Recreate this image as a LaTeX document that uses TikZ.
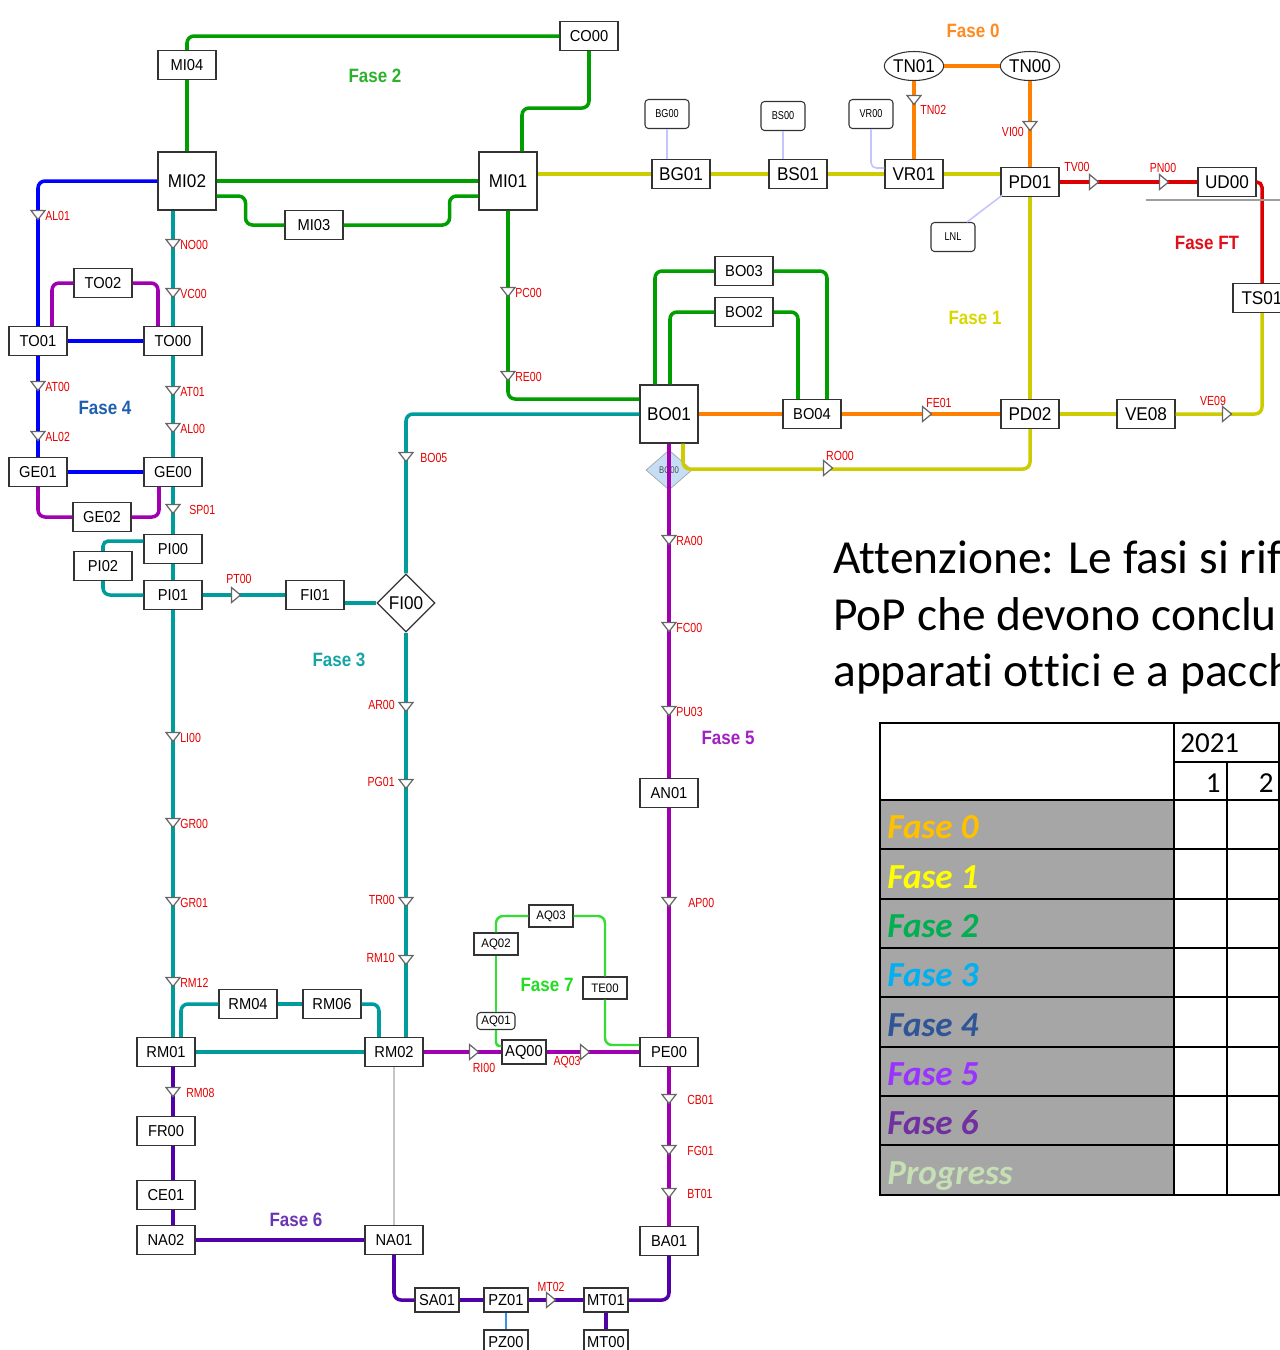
\documentclass[tikz,border=0pt]{standalone}
\usepackage{fontspec}
\setmainfont[Ligatures=NoCommon]{Carlito}
\newfontfamily\arialn[FakeStretch=0.93]{Liberation Sans}
\newfontfamily\arialf[FakeStretch=0.88]{Liberation Sans}
\newfontfamily\arialc[FakeStretch=0.80]{Liberation Sans}
\usetikzlibrary{shapes.geometric,calc}

% line colours
\definecolor{fzero}{HTML}{FF8000}
\definecolor{fone}{HTML}{CCCC00}
\definecolor{ftwo}{HTML}{009E00}
\definecolor{fthree}{HTML}{009C9C}
\definecolor{ffour}{HTML}{0000FF}
\definecolor{ffive}{HTML}{A000B0}
\definecolor{fsix}{HTML}{5200A8}
\definecolor{fseven}{HTML}{33DD33}
\definecolor{fft}{HTML}{DD0000}
\definecolor{lav}{HTML}{C4C4FF}
\definecolor{bolight}{HTML}{C6DDF6}
\definecolor{pzblue}{HTML}{3A8EE6}
\definecolor{tabgray}{HTML}{A6A6A6}
% label colours
\definecolor{lzero}{HTML}{FF8A1F}
\definecolor{lone}{HTML}{D8D800}
\definecolor{ltwo}{HTML}{2DB02D}
\definecolor{lthree}{HTML}{15A5A5}
\definecolor{lfour}{HTML}{1F5FAF}
\definecolor{lfive}{HTML}{A020C0}
\definecolor{lsix}{HTML}{6A35B5}
\definecolor{lseven}{HTML}{22DD22}
\definecolor{lft}{HTML}{E0101A}
% table colours
\definecolor{tzero}{HTML}{FFC000}
\definecolor{tone}{HTML}{FFFF00}
\definecolor{ttwo}{HTML}{00B050}
\definecolor{tthree}{HTML}{00B0F0}
\definecolor{tfour}{HTML}{2F5597}
\definecolor{tfive}{HTML}{9933FF}
\definecolor{tsix}{HTML}{7030A0}
\definecolor{tprog}{HTML}{C5E0B4}

\tikzset{
  box/.style={draw=black!80, fill=white, line width=0.6pt, inner sep=0pt,
    minimum width=1.16cm, minimum height=0.58cm, font=\arialn\fontsize{9}{9}\selectfont},
  wbox/.style={box, font=\arialn\fontsize{10.5}{10.5}\selectfont},
  bigbox/.style={wbox, minimum height=1.16cm},
  oval/.style={wbox, ellipse},
  sbox/.style={box, minimum width=0.88cm, minimum height=0.44cm, font=\arialn\fontsize{7}{7}\selectfont},
  tbox/.style={box, minimum width=0.88cm, minimum height=0.48cm},
  rbox/.style={box, rounded corners=2pt, minimum width=0.88cm, font=\arialc\fontsize{6.5}{6.5}\selectfont},
  ln/.style={line width=2pt, rounded corners=4pt},
  ln7/.style={line width=1.4pt, rounded corners=4pt},
  lnthin/.style={line width=0.9pt, rounded corners=3pt},
  mk/.style={draw=black!60, fill=white, line width=0.7pt, sharp corners},
  dn/.pic={\path[mk] (-7,-4.5) -- (7,-4.5) -- (0,4.5) -- cycle;},
  rt/.pic={\path[mk] (-4.5,-7.5) -- (4.5,0) -- (-4.5,7.5) -- cycle;},
  lbl/.style={text=red!90!black, inner sep=0pt, font=\arialc\fontsize{7.5}{7.5}\selectfont},
  fase/.style={inner sep=0pt, font=\arialf\bfseries\fontsize{11}{11}\selectfont},
  tab/.style={line width=1.5pt},
}

\begin{document}
\begin{tikzpicture}[x=0.02cm,y=-0.02cm]
  \useasboundingbox (0,0) rectangle (1280,1350);
  \clip (0,0) rectangle (1280,1350);

  % nodes, top
  \node[box] (CO00) at (589,36) {CO00};
  \node[box] (MI04) at (187,65) {MI04};
  \node[bigbox] (MI02) at (187,181) {MI02};
  \node[bigbox] (MI01) at (508,181) {MI01};
  \node[box] (MI03) at (314,225) {MI03};
  \node[rbox] (BG00) at (667,114) {BG00};
  \node[rbox] (BS00) at (783,116) {BS00};
  \node[rbox] (VR00) at (871,114) {VR00};
  \node[rbox] (LNL) at (953,237) {LNL};
  \node[wbox] (BG01) at (681,174) {BG01};
  \node[wbox] (BS01) at (798,174) {BS01};
  \node[wbox] (VR01) at (914,174) {VR01};
  \node[wbox] (PD01) at (1030,182) {PD01};
  \node[wbox] (UD00) at (1227,182) {UD00};
  \node[wbox] (TS01) at (1262,298) {TS01};
  \node[oval] (TN01) at (914,66) {TN01};
  \node[oval] (TN00) at (1030,66) {TN00};
  % nodes, BO
  \node[box] (BO03) at (744,271) {BO03};
  \node[box] (BO02) at (744,312) {BO02};
  \node[bigbox] (BO01) at (669,414) {BO01};
  \node[box] (BO04) at (812,414) {BO04};
  \node[wbox] (PD02) at (1030,414) {PD02};
  \node[wbox] (VE08) at (1146,414) {VE08};
  \node[diamond, draw=gray!70, fill=bolight, inner sep=0pt, minimum width=0.92cm, minimum height=0.8cm,
    font=\arialc\fontsize{5.5}{5.5}\selectfont, text=black!70] (BO00) at (669,470) {BO00};
  \node[box] (AN01) at (669,793) {AN01};
  % nodes, left
  \node[box] (TO02) at (103,283) {TO02};
  \node[box] (TO01) at (38,341) {TO01};
  \node[box] (TO00) at (173,341) {TO00};
  \node[box] (GE01) at (38,472) {GE01};
  \node[box] (GE00) at (173,472) {GE00};
  \node[box] (GE02) at (102,517) {GE02};
  \node[box] (PI00) at (173,549) {PI00};
  \node[box] (PI02) at (103,566) {PI02};
  \node[box] (PI01) at (173,595) {PI01};
  \node[box] (FI01) at (315,595) {FI01};
  \node[diamond, draw=black!80, fill=white, line width=0.7pt, inner sep=0pt, minimum width=1.16cm,
    minimum height=1.16cm, font=\arialn\fontsize{10.5}{10.5}\selectfont] (FI00) at (406,603) {FI00};
  % nodes, bottom
  \node[box] (RM04) at (248,1004) {RM04};
  \node[box] (RM06) at (332,1004) {RM06};
  \node[box] (RM01) at (166,1052) {RM01};
  \node[box] (RM02) at (394,1052) {RM02};
  \node[sbox] (AQ03) at (551,916) {AQ03};
  \node[sbox] (AQ02) at (496,944) {AQ02};
  \node[sbox] (TE00) at (605,988) {TE00};
  \node[sbox, rounded corners=2pt, minimum width=0.76cm, minimum height=0.34cm] (AQ01) at (496,1021) {AQ01};
  \node[tbox] (AQ00) at (524,1052) {AQ00};
  \node[box] (PE00) at (669,1052) {PE00};
  \node[box] (FR00) at (166,1131) {FR00};
  \node[box] (CE01) at (166,1195) {CE01};
  \node[box] (NA02) at (166,1240) {NA02};
  \node[box] (NA01) at (394,1240) {NA01};
  \node[box] (BA01) at (669,1241) {BA01};
  \node[tbox] (SA01) at (437,1300) {SA01};
  \node[tbox] (PZ01) at (506,1300) {PZ01};
  \node[tbox] (MT01) at (606,1300) {MT01};
  \node[tbox] (PZ00) at (506,1342) {PZ00};
  \node[tbox] (MT00) at (606,1342) {MT00};

  % Fase 2
  \draw[ln,ftwo] (MI04.north) |- (CO00.west);
  \draw[ln,ftwo] (CO00.south) -- ++(0,57) -| ($(MI01.north)+(14,0)$);
  \draw[ln,ftwo] (MI04) -- (MI02);
  \draw[ln,ftwo] (MI02) -- (MI01);
  \draw[ln,ftwo] ($(MI02.east)+(0,15)$) -- ++(29,0) |- (MI03.west);
  \draw[ln,ftwo] (MI03.east) -- ++(106,0) |- ($(MI01.west)+(0,15)$);
  \draw[ln,ftwo] (MI01.south) |- ($(BO01.west)+(0,-15)$);
  \draw[ln,ftwo] (BO03.west) -| ($(BO01.north)+(-14,0)$);
  \draw[ln,ftwo] (BO02.west) -| ($(BO01.north)+(1,0)$);
  \draw[ln,ftwo] (BO03.east) -| ($(BO04.north)+(15,0)$);
  \draw[ln,ftwo] (BO02.east) -| ($(BO04.north)+(-14,0)$);

  % Fase 1
  \draw[ln,fone] ($(MI01.east)+(0,-7)$) -- (BG01.west);
  \draw[ln,fone] (BG01) -- (BS01);
  \draw[ln,fone] (BS01) -- (VR01);
  \draw[ln,fone] (VR01.east) -- (VR01.east -| PD01.west);
  \draw[ln,fone] (PD01) -- (PD02);
  \draw[ln,fone] (PD02) -- (VE08);
  \draw[ln,fone] (VE08.east) -| (TS01.south);
  \draw[ln,fone] ($(BO01.south)+(14,0)$) |- ($(PD02.south)+(0,40)$) -- (PD02.south);

  % Fase 0
  \draw[ln,fzero] (TN01) -- (TN00);
  \draw[ln,fzero] (TN01) -- (VR01);
  \draw[ln,fzero] (TN00) -- (PD01);
  \draw[ln,fzero] (BO01) -- (BO04);
  \draw[ln,fzero] (BO04) -- (PD02);

  % Fase FT
  \draw[ln,fft] (PD01) -- (UD00);
  \draw[ln,fft,rounded corners=3pt] (UD00.east) -| (TS01.north);
  \coordinate (ftA) at (1146,200);
  \coordinate (ftB) at (1280,200);
  \draw[gray!75, line width=0.7pt] (ftA) -- (ftB);

  % thin links
  \draw[lnthin,lav] (BG00) -- (BG00 |- BG01.north);
  \draw[lnthin,lav] (BS00) -- (BS00 |- BS01.north);
  \draw[lnthin,lav] (VR00.south) |- ($(VR01.west)+(0,-6)$);
  \draw[lnthin,lav] ($(LNL.north)+(14,0)$) -- ($(PD01.south west)+(2,-2)$);

  % Fase 3
  \draw[ln,fthree] ($(MI02.south)+(-14,0)$) -- (TO00.north);
  \draw[ln,fthree] (TO00) -- (GE00);
  \draw[ln,fthree] (GE00) -- (PI00);
  \draw[ln,fthree] (PI00) -- (PI01);
  \draw[ln,fthree,rounded corners=3pt] ($(PI00.west)+(0,-8)$) -| (PI02.north);
  \draw[ln,fthree] (PI02.south) |- (PI01.west);
  \draw[ln,fthree] (PI01) -- (FI01);
  \draw[ln,fthree,line width=2.6pt] (FI01.east |- FI00.west) -- (FI00.west);
  \draw[ln,fthree] (BO01.west) -| (FI00.north);
  \draw[ln,fthree] (FI00.south) -- (FI00.south |- RM02.north);
  \draw[ln,fthree] (PI01.south) -- (PI01.south |- RM01.north);
  \draw[ln,fthree] ($(RM01.north)+(15,0)$) |- (RM04.west);
  \draw[ln,fthree] (RM04) -- (RM06);
  \draw[ln,fthree] (RM06.east) -| ($(RM02.north)+(-15,0)$);
  \draw[ln,fthree] (RM01) -- (RM02);

  % Fase 4
  \draw[ln,ffour] (MI02.west) -| (TO01.north);
  \draw[ln,ffour] (TO01) -- (TO00);
  \draw[ln,ffour] (TO01) -- (GE01);
  \draw[ln,ffour] (GE01) -- (GE00);
  \draw[ln,ffive] ($(TO01.north)+(14,0)$) |- (TO02.west);
  \draw[ln,ffive] (TO02.east) -| ($(TO00.north)+(-15,0)$);
  \draw[ln,ffive] (GE01.south) |- (GE02.west);
  \draw[ln,ffive] (GE02.east) -| ($(GE00.south)+(-14,0)$);

  % Fase 5
  \draw[ln,ffive] (BO01) -- (AN01);
  \draw[ln,ffive] (AN01) -- (PE00);
  \draw[ln,ffive] (PE00) -- (BA01);
  \draw[ln,ffive] (RM02) -- (AQ00);
  \draw[ln,ffive] (AQ00) -- (PE00);

  % Fase 6
  \draw[ln,fsix] ($(RM01.south)+(7,0)$) -- ($(FR00.north)+(7,0)$);
  \draw[ln,fsix] ($(FR00.south)+(7,0)$) -- ($(CE01.north)+(7,0)$);
  \draw[ln,fsix] ($(CE01.south)+(7,0)$) -- ($(NA02.north)+(7,0)$);
  \draw[ln,fsix] (NA02) -- (NA01);
  \draw[ln,fsix] (NA01.south) |- (SA01.west);
  \draw[ln,fsix] (SA01) -- (PZ01);
  \draw[ln,fsix] (PZ01) -- (MT01);
  \draw[ln,fsix] (MT01.east) -| (BA01.south);
  \draw[ln,fsix] (MT01) -- (MT00);
  \draw[pzblue, line width=1.2pt] (PZ01) -- (PZ00);
  \draw[gray!45, line width=1.6pt] (RM02) -- (NA01);

  % Fase 7
  \draw[ln7,fseven] (AQ02.north) |- (AQ03.west);
  \draw[ln7,fseven] (AQ03.east) -| (TE00.north);
  \draw[ln7,fseven] (TE00.south) |- ($(PE00.west)+(0,-7)$);
  \draw[ln7,fseven] (AQ02) -- (AQ01);
  \draw[ln7,fseven,rounded corners=2pt] (AQ01.south) |- ($(AQ00.west)+(0,-6)$);

  % markers on the lines
  \foreach \x/\y/\t/\dx in {38/215/AL01/7, 38/386/AT00/7, 38/436/AL02/7, 173/244/NO00/7,
      173/293/VC00/7, 173/391/AT01/7, 173/428/AL00/7, 173/509/SP01/16, 173/737/LI00/7,
      173/823/GR00/7, 173/902/GR01/7, 173/982/RM12/7, 173/1092/RM08/13, 508/292/PC00/7,
      508/376/RE00/7, 406/457/BO05/14, 669/540/RA00/7, 669/627/FC00/7, 669/711/PU03/7,
      669/902/AP00/19, 669/1099/CB01/18, 669/1150/FG01/18, 669/1193/BT01/18}
  {
    \pic at (\x,\y) {dn};
    \node[lbl, anchor=west] (l\t) at (\x+\dx,\y+1) {\t};
  }
  \foreach \x/\y/\t in {406/707/AR00, 406/784/PG01, 406/902/TR00, 406/960/RM10}
  {
    \pic at (\x,\y) {dn};
    \node[lbl, anchor=east] (l\t) at (\x-11,\y-2) {\t};
  }
  \pic at (914,100) {dn};
  \node[lbl, anchor=west] (lTN02) at (920,110) {TN02};
  \pic at (1030,126) {dn};
  \node[lbl, anchor=east] (lVI00) at (1024,132) {VI00};
  \foreach \x/\y/\t/\lx/\ly in {1094/182/TV00/1077/167, 1164/182/PN00/1163/168,
      927/414/FE01/939/403, 1227/414/VE09/1213/401, 828/468/RO00/840/456,
      236/595/PT00/239/579, 474/1052/RI00/484/1068, 585/1052/AQ03/567/1062,
      551/1300/MT02/551/1287}
  {
    \pic at (\x,\y) {rt};
    \node[lbl] (l\t) at (\lx,\ly) {\t};
  }

  % phase labels
  \node[fase, text=lzero] (fase0) at (973,31) {Fase 0};
  \node[fase, text=lone] (fase1) at (975,318) {Fase 1};
  \node[fase, text=ltwo] (fase2) at (375,76) {Fase 2};
  \node[fase, text=lthree] (fase3) at (339,660) {Fase 3};
  \node[fase, text=lfour] (fase4) at (105,408) {Fase 4};
  \node[fase, text=lfive] (fase5) at (728,738) {Fase 5};
  \node[fase, text=lsix] (fase6) at (296,1220) {Fase 6};
  \node[fase, text=lseven] (fase7) at (547,985) {Fase 7};
  \node[fase, text=lft] (faseft) at (1207,243) {Fase FT};

  % note
  \node[anchor=base west, inner sep=0pt, font=\fontsize{27}{27}\selectfont] (note1) at (833,573) {Attenzione: Le fasi si rif};
  \node[anchor=base west, inner sep=0pt, font=\fontsize{27}{27}\selectfont] (note2) at (833,630) {PoP che devono conclu};
  \node[anchor=base west, inner sep=0pt, font=\fontsize{27}{27}\selectfont] (note3) at (833,686) {apparati ottici e a pacch};

  % table
  \fill[tabgray] (880,800) rectangle (1174,1195);
  \draw[tab] (880,723) rectangle (1279,1195);
  \draw[tab] (1174,723) -- (1174,1195);
  \draw[tab] (1174,762) -- (1279,762);
  \draw[tab] (1227,762) -- (1227,1195);
  \foreach \y in {800,849,899,948,997,1047,1096,1145}
    \draw[tab] (880,\y) -- (1279,\y);
  \node[anchor=base west, inner sep=0pt, font=\fontsize{16.5}{16.5}\selectfont] (year) at (1180,752) {2021};
  \node[anchor=base east, inner sep=0pt, font=\fontsize{16.5}{16.5}\selectfont] (mone) at (1221,792) {1};
  \node[anchor=base east, inner sep=0pt, font=\fontsize{16.5}{16.5}\selectfont] (mtwo) at (1274,792) {2};
  \foreach \y/\t/\c [count=\i] in {838/Fase 0/tzero, 888/Fase 1/tone, 937/Fase 2/ttwo,
      986/Fase 3/tthree, 1036/Fase 4/tfour, 1085/Fase 5/tfive, 1134/Fase 6/tsix, 1184/Progress/tprog}
    \node[anchor=base west, inner sep=0pt, text=\c, font=\fontsize{20}{20}\bfseries\itshape\selectfont] (row\i) at (887,\y) {\t};
\end{tikzpicture}
\end{document}
